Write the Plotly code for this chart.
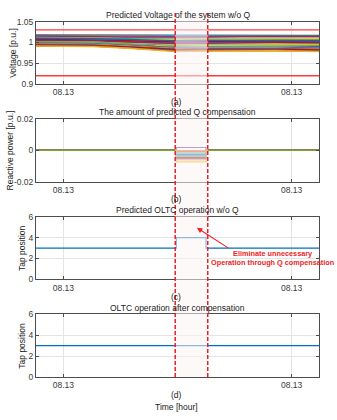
import plotly.graph_objects as go

# ---------------- data ----------------
hours = [0, 2.4, 5, 8, 10.5, 12.3, 14.9, 18, 21, 24.8]

voltage_by_bus = [
    [1.018, 1.018, 1.018, 1.017, 1.017, 1.017, 1.017, 1.017, 1.017, 1.017],
    [1.016, 1.016, 1.016, 1.015, 1.015, 1.014, 1.015, 1.015, 1.015, 1.015],
    [1.013, 1.013, 1.013, 1.012, 1.011, 1.011, 1.012, 1.012, 1.011, 1.011],
    [1.015, 1.015, 1.014, 1.013, 1.013, 1.012, 1.013, 1.014, 1.014, 1.014],
    [1.011, 1.011, 1.010, 1.009, 1.008, 1.008, 1.008, 1.008, 1.008, 1.007],
    [1.009, 1.009, 1.008, 1.006, 1.005, 0.999, 1.000, 1.004, 1.004, 1.003],
    [1.000, 1.000, 0.999, 0.995, 0.991, 0.990, 0.990, 0.990, 0.990, 0.990],
    [1.010, 1.010, 1.009, 1.007, 1.005, 1.004, 1.005, 1.005, 1.005, 1.004],
    [1.006, 1.006, 1.005, 1.002, 0.999, 0.998, 0.999, 0.999, 0.999, 0.998],
    [1.004, 1.004, 1.003, 1.000, 0.997, 0.996, 0.997, 0.997, 0.997, 0.996],
    [1.005, 1.005, 1.004, 1.001, 0.999, 0.997, 0.998, 0.999, 1.000, 0.999],
    [1.002, 1.002, 1.001, 0.997, 0.994, 0.993, 0.994, 0.994, 0.994, 0.993],
    [0.999, 0.999, 0.998, 0.994, 0.990, 0.989, 0.990, 0.990, 0.990, 0.988],
    [1.007, 1.007, 1.006, 1.004, 1.002, 1.001, 1.002, 1.002, 1.002, 1.001],
    [0.998, 0.998, 0.997, 0.993, 0.989, 0.987, 0.988, 0.988, 0.988, 0.986],
    [0.997, 0.997, 0.996, 0.992, 0.988, 0.986, 0.987, 0.987, 0.987, 0.985],
    [0.996, 0.996, 0.995, 0.991, 0.987, 0.985, 0.986, 0.986, 0.986, 0.984],
    [0.995, 0.995, 0.994, 0.990, 0.986, 0.984, 0.985, 0.985, 0.985, 0.983],
    [0.994, 0.994, 0.993, 0.989, 0.985, 0.983, 0.984, 0.984, 0.984, 0.982],
    [0.993, 0.993, 0.992, 0.988, 0.984, 0.982, 0.983, 0.983, 0.983, 0.981],
    [0.994, 0.994, 0.993, 0.989, 0.985, 0.983, 0.984, 0.984, 0.984, 0.982],
    [0.992, 0.992, 0.991, 0.987, 0.983, 0.980, 0.981, 0.981, 0.981, 0.980],
    [0.992, 0.992, 0.991, 0.987, 0.982, 0.979, 0.980, 0.981, 0.981, 0.979],
    [0.991, 0.991, 0.990, 0.986, 0.981, 0.978, 0.979, 0.980, 0.980, 0.978],
]

voltage_upper_limit = 1.03
voltage_lower_limit = 0.92

# time grid for step signals: start, compensation on, compensation off, end
step_hours = [0, 12.3, 14.9, 24.8]
q_during_window = [-0.0030, -0.0003, -0.0073, 0.0019, -0.0010, -0.0017,
                   -0.0045, -0.0025, -0.0007, -0.0060, -0.0052, -0.0038]

tap_without_q = [3, 4, 3, 3]
tap_after_comp = [3, 3, 3, 3]

window_start, window_end = 12.2, 15.05
tick_hours = [2.4, 22.4]
tick_text = ["08.13", "08.13"]

# ---------------- styling ----------------
matlab_colors = ["#0072BD", "#D95319", "#EDB120", "#7E2F8E",
                 "#77AC30", "#4DBEEE", "#A2142F"]
W, H = 337, 420
X0, X1 = 36, 319
panels = [(17, 81), (117, 181), (217, 281), (317, 381)]  # top/bottom in px
FONT = "Liberation Sans, Arial, sans-serif"

def py(px):
    return 1 - px / H

def px_x(px):
    return px / W

fig = go.Figure()

# (a) predicted voltage
for i, v in enumerate(voltage_by_bus):
    fig.add_trace(go.Scatter(x=hours, y=v, mode="lines",
                             line=dict(color=matlab_colors[i % 7], width=1.3),
                             xaxis="x", yaxis="y", showlegend=False))
for lim in (voltage_upper_limit, voltage_lower_limit):
    fig.add_trace(go.Scatter(x=[hours[0], hours[-1]], y=[lim, lim], mode="lines",
                             line=dict(color="#ff3a3a", width=1.3),
                             xaxis="x", yaxis="y", showlegend=False))

# (b) reactive power compensation
for i, q in enumerate(q_during_window):
    fig.add_trace(go.Scatter(x=step_hours, y=[0, q, 0, 0], mode="lines",
                             line=dict(color=matlab_colors[i % 7], width=1.2, shape="hv"),
                             xaxis="x2", yaxis="y2", showlegend=False))

# (c) predicted OLTC operation
fig.add_trace(go.Scatter(x=step_hours, y=tap_without_q, mode="lines",
                         line=dict(color="#0072BD", width=1.2, shape="hv"),
                         xaxis="x3", yaxis="y3", showlegend=False))
# (d) OLTC after compensation
fig.add_trace(go.Scatter(x=step_hours, y=tap_after_comp, mode="lines",
                         line=dict(color="#0072BD", width=1.2, shape="hv"),
                         xaxis="x4", yaxis="y4", showlegend=False))

axis_common = dict(showline=True, linecolor="#4d4d4d", linewidth=1, mirror="ticks",
                   ticks="inside", ticklen=3, tickcolor="#4d4d4d",
                   showgrid=True, gridcolor="#e4e4e4", gridwidth=1, zeroline=False,
                   tickfont=dict(family=FONT, size=8.5, color="#3a3a3a"))

yranges = [(0.9, 1.05), (-0.02, 0.02), (0, 6), (0, 6)]
ytickvals = [[0.9, 0.95, 1.0, 1.05], [-0.02, 0, 0.02], [0, 2, 4, 6], [0, 2, 4, 6]]
ytickfmt = [["0.9", "0.95", "1", "1.05"], ["-0.02", "0", "0.02"],
            ["0", "2", "4", "6"], ["0", "2", "4", "6"]]

layout = dict(width=W, height=H, margin=dict(l=0, r=0, t=0, b=0),
              paper_bgcolor="white", plot_bgcolor="white")
for k, (top, bot) in enumerate(panels):
    sx = "" if k == 0 else str(k + 1)
    layout["xaxis" + sx] = dict(axis_common, domain=[px_x(X0), px_x(X1)],
                                range=[hours[0], hours[-1]], anchor="y" + sx,
                                tickvals=tick_hours, ticktext=tick_text)
    layout["yaxis" + sx] = dict(axis_common, domain=[py(bot), py(top)],
                                range=list(yranges[k]), anchor="x" + sx,
                                tickvals=ytickvals[k], ticktext=ytickfmt[k])
fig.update_layout(**layout)

# event window: shaded band + dashed boundaries across all panels
band_top, band_bot = py(8), py(381)
fig.add_shape(type="rect", xref="x", yref="paper", x0=window_start, x1=window_end,
              y0=band_bot, y1=band_top, fillcolor="#fdf4f4", opacity=0.55,
              line=dict(width=0), layer="above")
for xv in (window_start, window_end):
    fig.add_shape(type="line", xref="x", yref="paper", x0=xv, x1=xv,
                  y0=band_bot, y1=band_top,
                  line=dict(color="#ee1c24", width=1.5, dash="4px,2px"), layer="above")

titles = ["Predicted Voltage of the system w/o Q",
          "The amount of predicted Q compensation",
          "Predicted OLTC operation w/o Q",
          "OLTC operation after compensation"]
ylabels = ["Voltage [p.u.]", "Reactive power [p.u.]", "Tap position", "Tap position"]
ylabel_x = [13, 10, 22, 22]
subtags = ["(a)", "(b)", "(c)", "(d)"]

def label(text, xpx, ypx, **kw):
    font = kw.pop("font", dict(family=FONT, size=8.5, color="#222"))
    fig.add_annotation(text=text, x=px_x(xpx), y=py(ypx), xref="paper", yref="paper",
                       xanchor="center", yanchor="middle", showarrow=False,
                       font=font, **kw)

for k, (top, bot) in enumerate(panels):
    label(titles[k], (X0 + X1) / 2, top - 7)
    label(ylabels[k], ylabel_x[k], (top + bot) / 2, textangle=-90)
    label(subtags[k], 176, bot + 18)

label("Time [hour]", 176, 412)

# arrow pointing at the unnecessary tap change
fig.add_annotation(x=14.1, y=4.95, ax=17.0, ay=2.9, xref="x3", yref="y3",
                   axref="x3", ayref="y3", text="", showarrow=True,
                   arrowhead=2, arrowsize=1, arrowwidth=1.1, arrowcolor="#ee1c24")
label("Eliminate unnecessary<br>Operation through Q compensation", 272, 259.5,
      align="center",
      font=dict(family=FONT, size=7.3, color="#ee1c24", weight="bold"))

fig.write_html("out.html")
